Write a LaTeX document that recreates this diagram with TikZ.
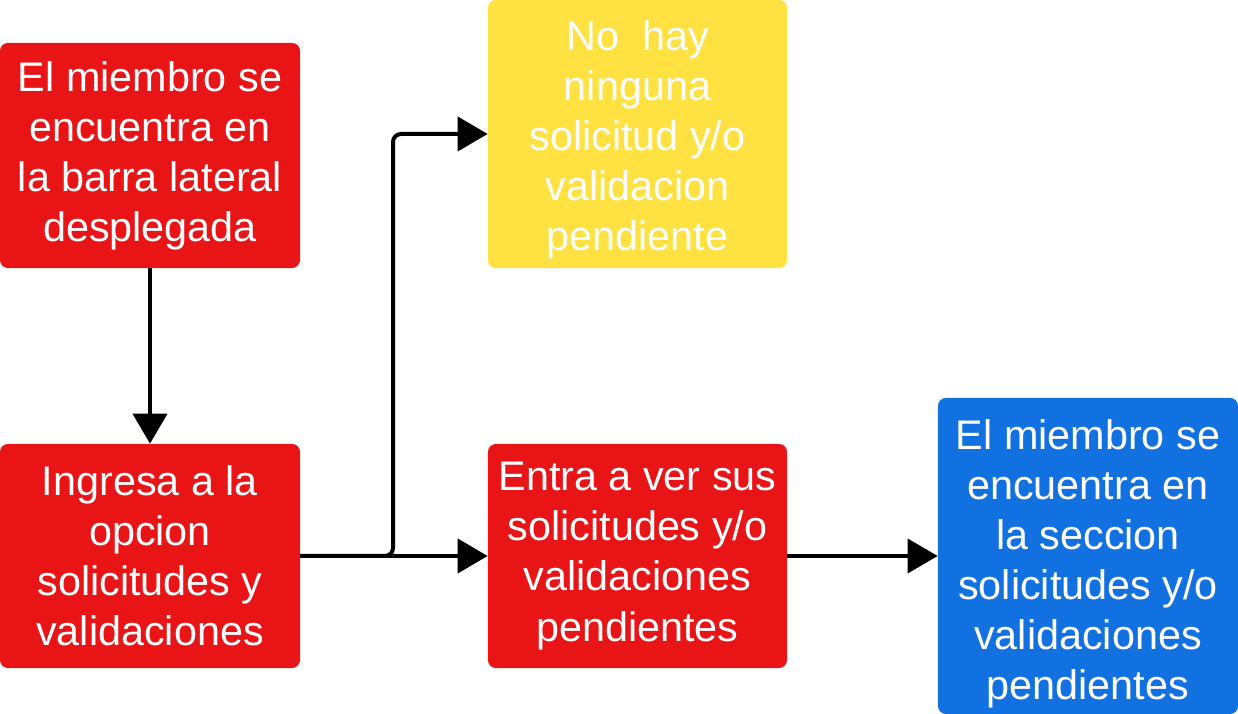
\documentclass[tikz,border=0pt]{standalone}
\usepackage{fontspec}
\setmainfont{Liberation Sans}
\usetikzlibrary{arrows.meta}
\definecolor{boxred}{HTML}{E81416}
\definecolor{boxyellow}{HTML}{FFE141}
\definecolor{boxblue}{HTML}{1271E1}
\tikzset{
  box/.style={rounded corners=0.2cm,text=white,align=center,inner sep=0pt,
    minimum width=7.5cm,font=\fontsize{29.4}{35.6}\selectfont},
  arr/.style={-{Triangle[length=0.75cm,width=0.85cm]},line width=0.1cm}
}
\begin{document}
\begin{tikzpicture}[x=0.025cm,y=0.025cm]
  \useasboundingbox (0,0) rectangle (1238,714);
  \node[box,fill=boxred,minimum height=5.625cm] (barra) at (150,558.5)
    {El miembro se\\encuentra en\\la barra lateral\\desplegada};
  \node[box,fill=boxred,minimum height=5.6cm] (opcion) at (150,158)
    {Ingresa a la\\opcion\\solicitudes y\\validaciones};
  \node[box,fill=boxyellow,minimum width=7.475cm,minimum height=6.7cm] (ninguna) at (637.5,580)
    {\rule{0pt}{1.05cm}No~~hay\\ninguna\\solicitud y/o\\validacion\\pendiente};
  \node[box,fill=boxred,minimum width=7.475cm,minimum height=5.6cm] (entra) at (637.5,158)
    {Entra a ver sus\\solicitudes y/o\\validaciones\\pendientes};
  \node[box,fill=boxblue,minimum height=7.9cm] (seccion) at (1088,158)
    {\rule{0pt}{1.15cm}El miembro se\\encuentra en\\la seccion\\solicitudes y/o\\validaciones\\pendientes};
  \coordinate (split) at (393,158);
  \draw[arr] (barra) -- (opcion);
  \draw[arr] (opcion) -- (entra);
  \draw[arr] (entra) -- (seccion);
  \draw[arr,rounded corners=0.2cm] (opcion.east) -- (split) |- (ninguna.west);
\end{tikzpicture}
\end{document}
